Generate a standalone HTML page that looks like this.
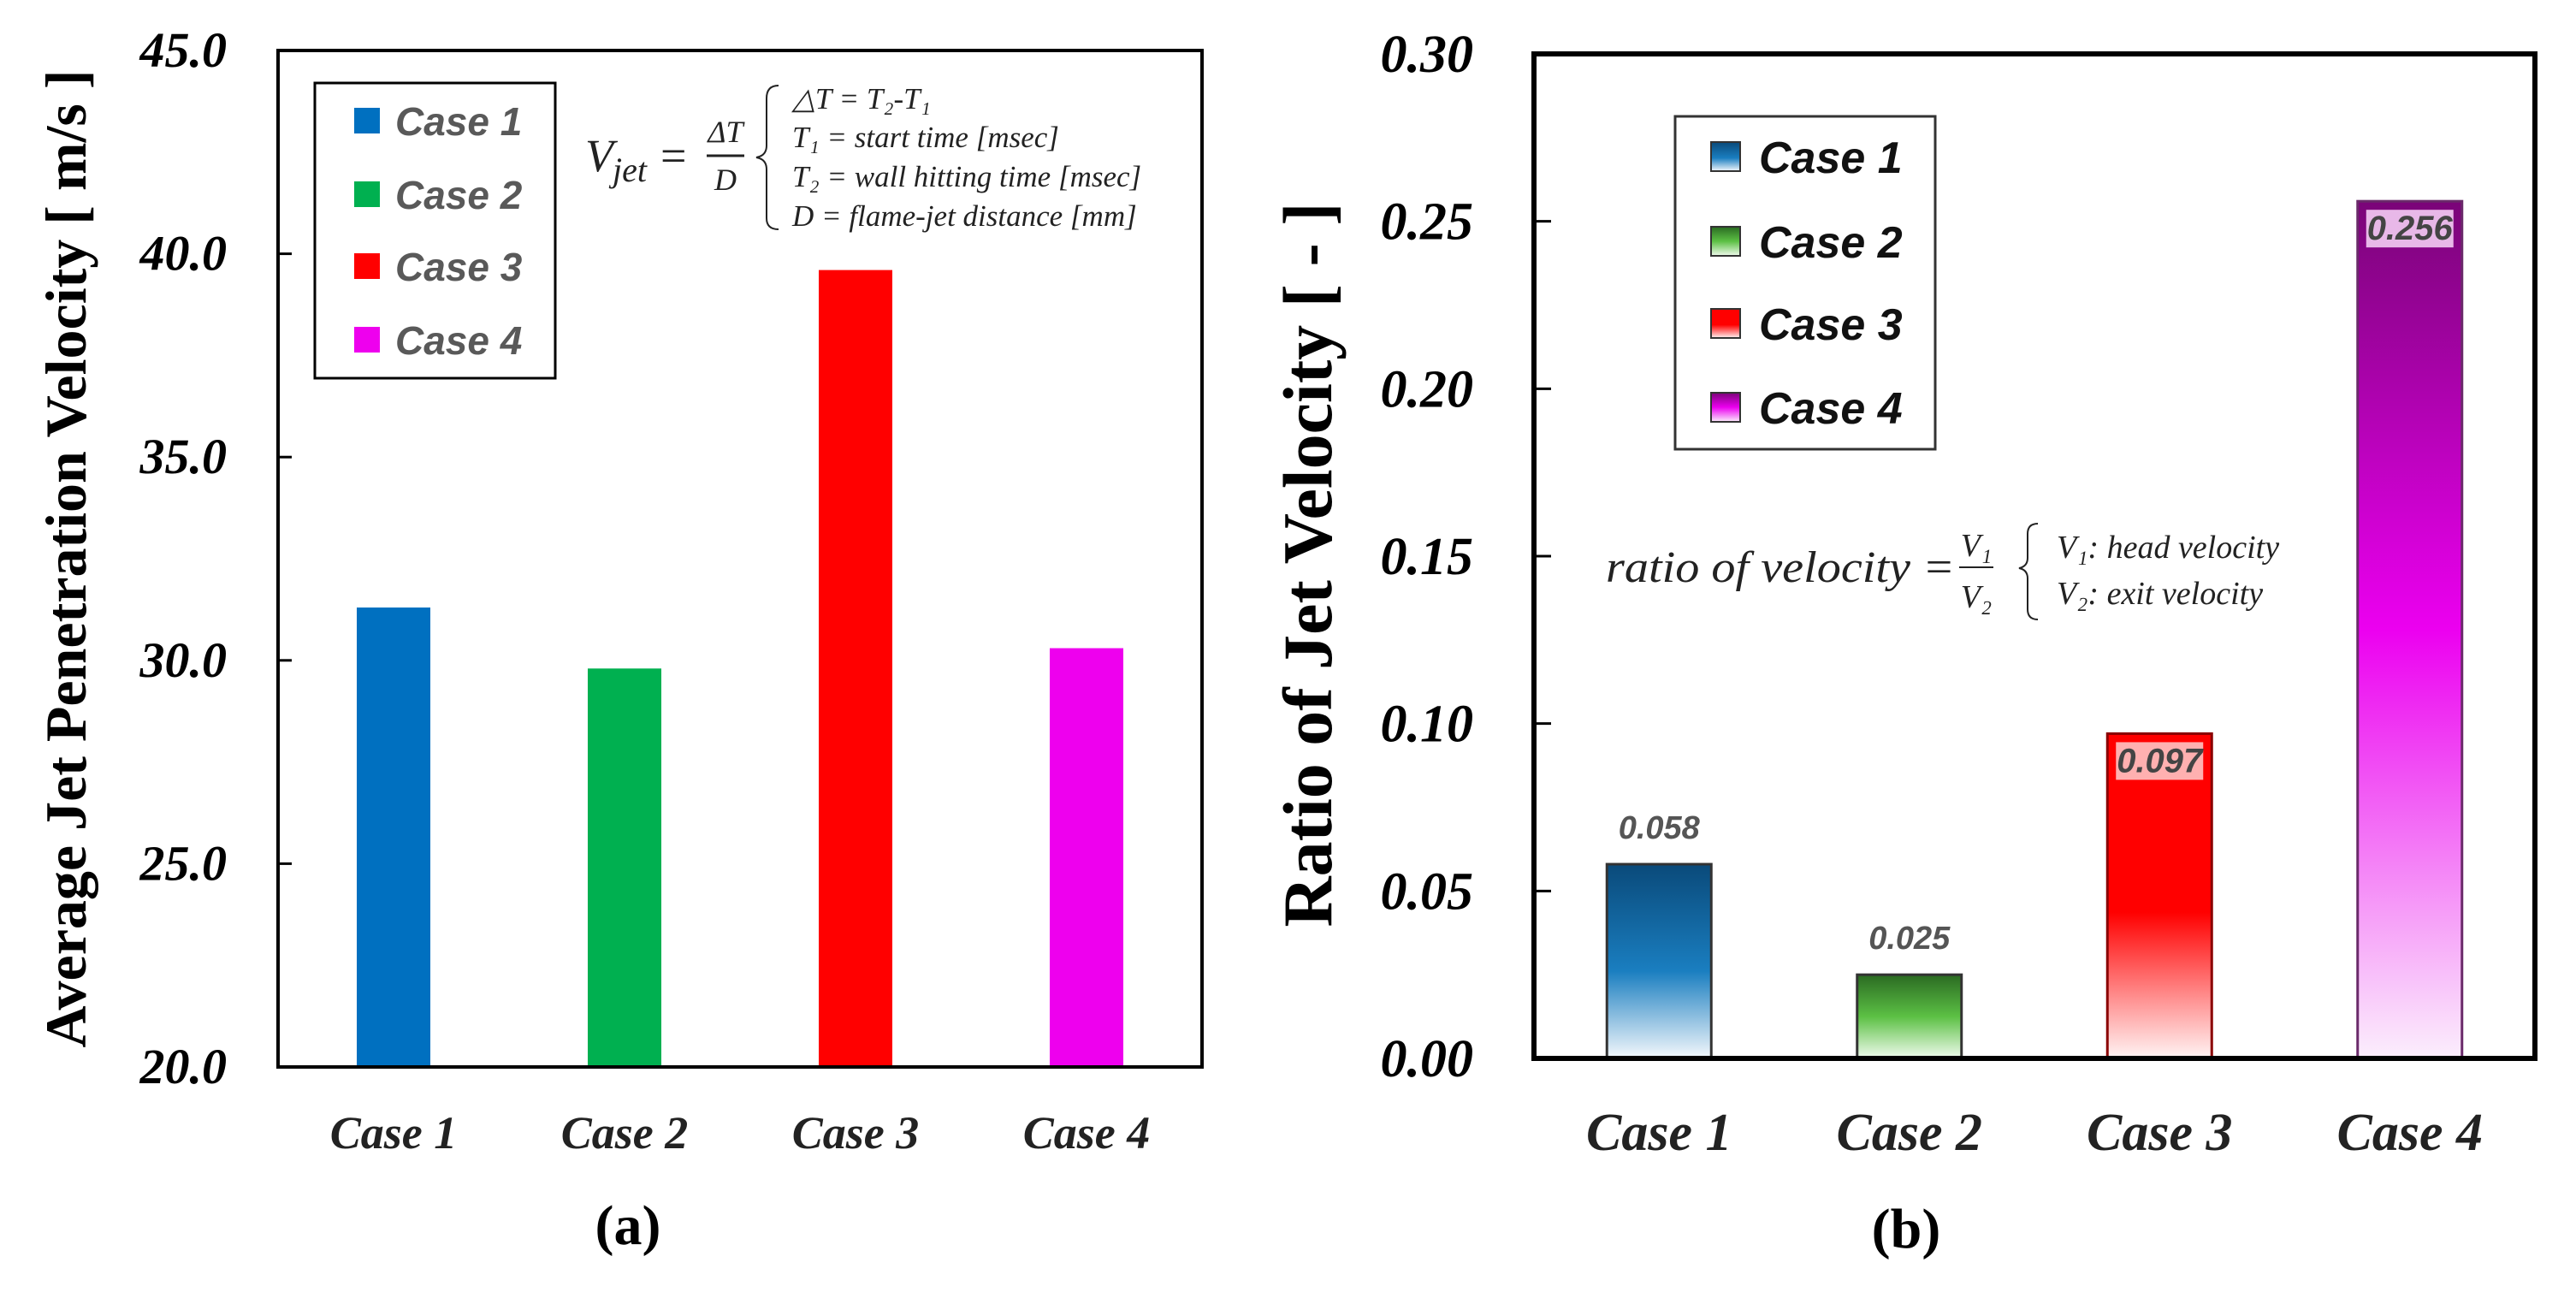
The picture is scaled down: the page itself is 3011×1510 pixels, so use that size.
<!DOCTYPE html>
<html><head><meta charset="utf-8">
<style>
html,body{margin:0;padding:0;background:#fff;}
svg{display:block;}
.serif{font-family:"Liberation Serif",serif;}
.sans{font-family:"Liberation Sans",sans-serif;}
</style></head>
<body>
<svg id="fig" width="3011" height="1510" viewBox="0 0 3011 1510" xmlns="http://www.w3.org/2000/svg">
<defs>
<linearGradient id="g1" x1="0" y1="0" x2="0" y2="1"><stop offset="0" stop-color="#0a4a7a"/><stop offset="0.55" stop-color="#1a7ec0"/><stop offset="1" stop-color="#f4f8fc"/></linearGradient>
<linearGradient id="g2" x1="0" y1="0" x2="0" y2="1"><stop offset="0" stop-color="#2a6a22"/><stop offset="0.5" stop-color="#5cc044"/><stop offset="1" stop-color="#f0fbee"/></linearGradient>
<linearGradient id="g3" x1="0" y1="0" x2="0" y2="1"><stop offset="0" stop-color="#ff0000"/><stop offset="0.55" stop-color="#ff0000"/><stop offset="1" stop-color="#fff4f4"/></linearGradient>
<linearGradient id="g4" x1="0" y1="0" x2="0" y2="1"><stop offset="0" stop-color="#7a0478"/><stop offset="0.5" stop-color="#ec00f0"/><stop offset="1" stop-color="#fbeefc"/></linearGradient>
</defs>
<g id="chartA"></g>
<g id="chartB"></g>
</svg>
<script>
const categories = ["Case 1","Case 2","Case 3","Case 4"];
const velocityValues = [31.3, 29.8, 39.6, 30.3];
const velocityTicks = ["20.0","25.0","30.0","35.0","40.0","45.0"];
const ratioValues = [0.058, 0.025, 0.097, 0.256];
const ratioLabels = ["0.058","0.025","0.097","0.256"];
const ratioTicks = ["0.00","0.05","0.10","0.15","0.20","0.25","0.30"];

const NS="http://www.w3.org/2000/svg";
function mk(parent,tag,attrs,text){const e=document.createElementNS(NS,tag);for(const k in attrs)e.setAttribute(k,attrs[k]);if(text!==undefined)e.textContent=text;parent.appendChild(e);return e;}

// ---------- Chart A ----------
const A=document.getElementById('chartA');
const aL=325,aR=1405,aT=59,aB=1247,aMin=20,aMax=45;
const ay=v=>aB-(v-aMin)/(aMax-aMin)*(aB-aT);
const ax=i=>aL+(aR-aL)/4*(i+0.5);
const colorsA=["#0070c0","#00b050","#ff0000","#ee00ee"];
velocityTicks.forEach(t=>{
  const y=ay(parseFloat(t));
  let l=mk(A,'line',{x1:aL,x2:aL+16,y1:y,y2:y,stroke:'#000','stroke-width':3});
  
  
  let tx=mk(A,'text',{x:265,y:y+19,'text-anchor':'end','font-size':58,'font-weight':'bold','font-style':'italic',class:'serif'},t);
  
  
});
velocityValues.forEach((v,i)=>{
  const w=86;
  let r=mk(A,'rect',{x:ax(i)-w/2,y:ay(v),width:w,height:aB-ay(v),fill:colorsA[i]});
  
  
  let t=mk(A,'text',{x:ax(i),y:1342,'text-anchor':'middle','font-size':54,'font-weight':'bold','font-style':'italic',class:'serif',fill:'#222'},categories[i]);
  
  
});
let fa=mk(A,'rect',{x:aL,y:aT,width:aR-aL,height:aB-aT,fill:'none',stroke:'#000','stroke-width':4});


let yta=mk(A,'text',{x:0,y:0,transform:'translate(100,653) rotate(-90)','text-anchor':'middle','font-size':68,'font-weight':'bold',class:'serif'},'Average Jet Penetration Velocity [ m/s ]');


let la=mk(A,'g',{});


mk(la,'rect',{x:368,y:97,width:281,height:345,fill:'#fff',stroke:'#000','stroke-width':3});
categories.forEach((c,i)=>{
  const y=[141,227,311,397][i];
  let s=mk(la,'rect',{x:414,y:y-15,width:30,height:30,fill:colorsA[i]});
  
  
  let t=mk(la,'text',{x:462,y:y+17,'font-size':46,'font-weight':'bold','font-style':'italic',class:'sans',fill:'#595959'},c);
  
  
});
let fmA=mk(A,'g',{class:'serif','font-style':'italic',fill:'#222'});


mk(fmA,'text',{x:684,y:200,'font-size':54},'V');
mk(fmA,'text',{x:716,y:212,'font-size':40},'jet');
mk(fmA,'text',{x:772,y:200,'font-size':54,'font-style':'normal'},'=');
mk(fmA,'text',{x:848,y:166,'font-size':36,'text-anchor':'middle'},'ΔT');
mk(fmA,'line',{x1:826,x2:870,y1:182,y2:182,stroke:'#222','stroke-width':3});
mk(fmA,'text',{x:848,y:222,'font-size':36,'text-anchor':'middle'},'D');
mk(fmA,'path',{d:'M910 100 Q896 100 896 115 L896 170 Q896 182 884 184 Q896 186 896 198 L896 255 Q896 268 910 268',fill:'none',stroke:'#222','stroke-width':2});
[["△T = T₂-T₁",127],["T₁ = start time [msec]",172],["T₂ = wall hitting time [msec]",218],["D = flame-jet distance [mm]",264]].forEach(([s,y])=>mk(fmA,'text',{x:926,y:y,'font-size':35},s));
let capA=mk(A,'text',{x:734,y:1454,'text-anchor':'middle','font-size':66,'font-weight':'bold',class:'serif'},'(a)');



// ---------- Chart B ----------
const B=document.getElementById('chartB');
const bL=1793,bR=2963,bT=63,bB=1237,bMin=0,bMax=0.30;
const by=v=>bB-(v-bMin)/(bMax-bMin)*(bB-bT);
const bx=i=>bL+(bR-bL)/4*(i+0.5);
const grads=["url(#g1)","url(#g2)","url(#g3)","url(#g4)"];
const strokesB=["#333","#333","#8a0000","#6a2a6a"];
ratioTicks.forEach(t=>{
  const y=by(parseFloat(t));
  let l=mk(B,'line',{x1:bL,x2:bL+20,y1:y,y2:y,stroke:'#000','stroke-width':3});
  
  
  let tx=mk(B,'text',{x:1722,y:y+21,'text-anchor':'end','font-size':62,'font-weight':'bold','font-style':'italic',class:'serif'},t);
  
  
});
ratioValues.forEach((v,i)=>{
  const w=122,x0=bx(i)-w/2,yt=by(v);
  let r=mk(B,'rect',{x:x0,y:yt,width:w,height:bB-yt,fill:grads[i],stroke:strokesB[i],'stroke-width':3});
  
  
  if(i>=2){
    let bg=mk(B,'rect',{x:x0+10,y:yt+10,width:w-20,height:44,fill:i==2?'#ffb0b0':'#e8b8e8'});
    
    
    let t=mk(B,'text',{x:bx(i),y:yt+45,'text-anchor':'middle','font-size':40,'font-weight':'bold','font-style':'italic',class:'sans',fill:'#444'},ratioLabels[i]);
    
    
  } else {
    let t=mk(B,'text',{x:bx(i),y:yt-30,'text-anchor':'middle','font-size':38,'font-weight':'bold','font-style':'italic',class:'sans',fill:'#555'},ratioLabels[i]);
    
    
  }
  let t2=mk(B,'text',{x:bx(i),y:1344,'text-anchor':'middle','font-size':62,'font-weight':'bold','font-style':'italic',class:'serif',fill:'#222'},categories[i]);
  
  
});
let fb=mk(B,'rect',{x:bL,y:bT,width:bR-bL,height:bB-bT,fill:'none',stroke:'#000','stroke-width':6});


let ytb=mk(B,'text',{x:0,y:0,transform:'translate(1556,660) rotate(-90)','text-anchor':'middle','font-size':82,'font-weight':'bold',class:'serif'},'Ratio of Jet Velocity [ - ]');


let lb=mk(B,'g',{});


mk(lb,'rect',{x:1958,y:136,width:304,height:389,fill:'#fff',stroke:'#333','stroke-width':3});
categories.forEach((c,i)=>{
  const y=[183,282,378,476][i];
  let s=mk(lb,'rect',{x:2000,y:y-17,width:34,height:34,fill:grads[i],stroke:'#333','stroke-width':2});
  
  
  let t=mk(lb,'text',{x:2056,y:y+19,'font-size':52,'font-weight':'bold','font-style':'italic',class:'sans',fill:'#111'},c);
  
  
});
let fmB=mk(B,'g',{class:'serif','font-style':'italic',fill:'#222'});


mk(fmB,'text',{x:1877,y:680,'font-size':52,textLength:408,lengthAdjust:'spacingAndGlyphs'},'ratio of velocity =');
mk(fmB,'text',{x:2310,y:650,'font-size':38,'text-anchor':'middle'},'V₁');
mk(fmB,'line',{x1:2290,x2:2330,y1:663,y2:663,stroke:'#222','stroke-width':2});
mk(fmB,'text',{x:2310,y:710,'font-size':38,'text-anchor':'middle'},'V₂');
mk(fmB,'path',{d:'M2382 612 Q2370 612 2370 624 L2370 652 Q2370 662 2360 664 Q2370 666 2370 676 L2370 712 Q2370 724 2382 724',fill:'none',stroke:'#222','stroke-width':2});
mk(fmB,'text',{x:2404,y:652,'font-size':38},'V₁: head velocity');
mk(fmB,'text',{x:2404,y:706,'font-size':38},'V₂: exit velocity');
let capB=mk(B,'text',{x:2228,y:1458,'text-anchor':'middle','font-size':66,'font-weight':'bold',class:'serif'},'(b)');


</script>
</body></html>
